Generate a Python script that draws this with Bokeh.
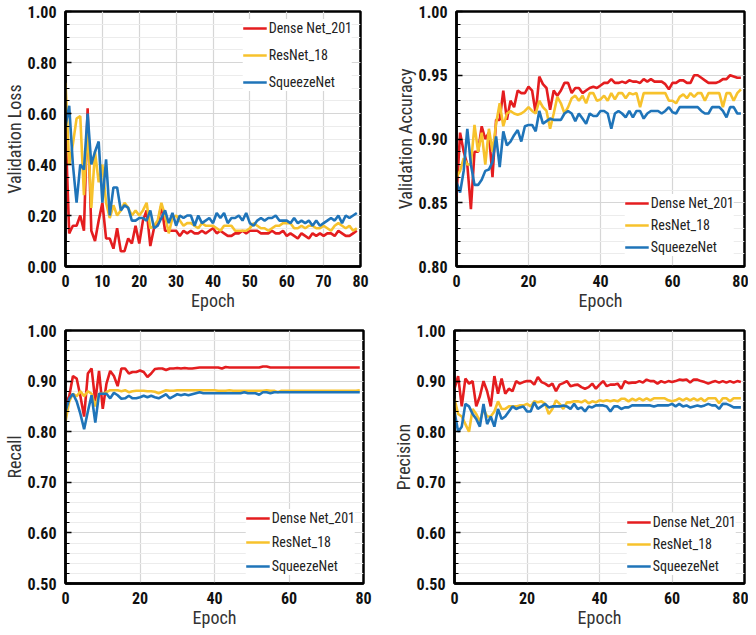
from bokeh.plotting import figure
from bokeh.layouts import column, row
from bokeh.models import FixedTicker, NumeralTickFormatter, Range1d
from bokeh.embed import file_html
from bokeh.resources import INLINE

epochs = list(range(80))
names = ["Dense Net_201", "ResNet_18", "SqueezeNet"]

loss_dense = [0.55, 0.13, 0.16, 0.16, 0.20, 0.14, 0.62, 0.14, 0.10, 0.18,
              0.25, 0.11, 0.11, 0.07, 0.15, 0.06, 0.06, 0.11, 0.09, 0.16,
              0.09, 0.18, 0.22, 0.08, 0.15, 0.17, 0.24, 0.14, 0.14, 0.14,
              0.14, 0.12, 0.14, 0.13, 0.14, 0.13, 0.13, 0.14, 0.13, 0.14,
              0.15, 0.13, 0.14, 0.13, 0.12, 0.12, 0.13, 0.13, 0.14, 0.13,
              0.14, 0.14, 0.14, 0.13, 0.13, 0.13, 0.14, 0.13, 0.13, 0.14,
              0.12, 0.13, 0.12, 0.11, 0.13, 0.12, 0.11, 0.13, 0.12, 0.13,
              0.12, 0.13, 0.13, 0.12, 0.14, 0.13, 0.12, 0.12, 0.13, 0.14]
loss_resnet = [0.72, 0.40, 0.48, 0.58, 0.59, 0.28, 0.55, 0.23, 0.45, 0.33,
               0.40, 0.25, 0.19, 0.24, 0.20, 0.22, 0.25, 0.23, 0.20, 0.22,
               0.20, 0.22, 0.25, 0.15, 0.16, 0.18, 0.25, 0.20, 0.13, 0.19,
               0.20, 0.18, 0.16, 0.17, 0.17, 0.16, 0.15, 0.17, 0.16, 0.16,
               0.16, 0.15, 0.14, 0.16, 0.16, 0.16, 0.14, 0.14, 0.14, 0.14,
               0.15, 0.17, 0.16, 0.15, 0.15, 0.14, 0.15, 0.16, 0.16, 0.17,
               0.17, 0.17, 0.15, 0.15, 0.16, 0.15, 0.16, 0.16, 0.15, 0.15,
               0.16, 0.15, 0.14, 0.16, 0.17, 0.16, 0.15, 0.16, 0.14, 0.15]
loss_squeeze = [0.55, 0.63, 0.40, 0.25, 0.40, 0.38, 0.60, 0.40, 0.45, 0.49,
                0.25, 0.42, 0.20, 0.31, 0.31, 0.22, 0.24, 0.23, 0.18, 0.18,
                0.19, 0.19, 0.18, 0.22, 0.15, 0.16, 0.19, 0.22, 0.17, 0.21,
                0.16, 0.20, 0.19, 0.20, 0.20, 0.16, 0.20, 0.17, 0.18, 0.19,
                0.17, 0.21, 0.19, 0.21, 0.17, 0.19, 0.19, 0.20, 0.18, 0.21,
                0.17, 0.16, 0.18, 0.19, 0.18, 0.19, 0.19, 0.20, 0.18, 0.18,
                0.18, 0.17, 0.19, 0.17, 0.18, 0.17, 0.18, 0.16, 0.18, 0.16,
                0.17, 0.18, 0.19, 0.18, 0.20, 0.17, 0.20, 0.19, 0.20, 0.21]

acc_dense = [0.855, 0.905, 0.890, 0.880, 0.845, 0.890, 0.890, 0.910, 0.900, 0.905,
             0.870, 0.915, 0.915, 0.938, 0.915, 0.930, 0.925, 0.938, 0.936, 0.936,
             0.941, 0.938, 0.920, 0.949, 0.943, 0.940, 0.923, 0.938, 0.934, 0.938,
             0.944, 0.944, 0.936, 0.940, 0.940, 0.936, 0.938, 0.940, 0.941, 0.940,
             0.942, 0.944, 0.944, 0.947, 0.944, 0.944, 0.945, 0.944, 0.946, 0.945,
             0.945, 0.944, 0.947, 0.945, 0.947, 0.945, 0.945, 0.945, 0.943, 0.939,
             0.944, 0.944, 0.946, 0.946, 0.944, 0.944, 0.950, 0.950, 0.948, 0.946,
             0.944, 0.944, 0.944, 0.945, 0.947, 0.947, 0.950, 0.949, 0.948, 0.948]
acc_resnet = [0.870, 0.875, 0.885, 0.880, 0.880, 0.911, 0.890, 0.905, 0.880, 0.908,
              0.890, 0.912, 0.928, 0.910, 0.920, 0.922, 0.920, 0.919, 0.920, 0.922,
              0.925, 0.922, 0.920, 0.930, 0.925, 0.922, 0.908, 0.920, 0.933, 0.928,
              0.920, 0.925, 0.932, 0.934, 0.930, 0.934, 0.928, 0.936, 0.936, 0.930,
              0.931, 0.934, 0.930, 0.936, 0.931, 0.936, 0.936, 0.932, 0.936, 0.935,
              0.936, 0.925, 0.936, 0.936, 0.936, 0.936, 0.936, 0.936, 0.936, 0.930,
              0.930, 0.928, 0.933, 0.935, 0.932, 0.936, 0.933, 0.936, 0.936, 0.930,
              0.936, 0.936, 0.936, 0.936, 0.925, 0.936, 0.936, 0.930, 0.936, 0.939]
acc_squeeze = [0.866, 0.858, 0.875, 0.908, 0.880, 0.864, 0.864, 0.868, 0.875, 0.876,
               0.882, 0.902, 0.878, 0.906, 0.895, 0.898, 0.903, 0.907, 0.898, 0.910,
               0.911, 0.911, 0.906, 0.922, 0.912, 0.914, 0.916, 0.915, 0.915, 0.915,
               0.920, 0.922, 0.920, 0.914, 0.920, 0.916, 0.912, 0.920, 0.918, 0.918,
               0.922, 0.922, 0.920, 0.908, 0.920, 0.922, 0.920, 0.917, 0.922, 0.917,
               0.922, 0.922, 0.916, 0.920, 0.922, 0.922, 0.922, 0.920, 0.922, 0.925,
               0.921, 0.920, 0.925, 0.925, 0.925, 0.925, 0.925, 0.925, 0.922, 0.920,
               0.920, 0.925, 0.925, 0.925, 0.922, 0.917, 0.925, 0.925, 0.920, 0.920]

rec_dense = [0.855, 0.870, 0.910, 0.905, 0.870, 0.830, 0.915, 0.925, 0.860, 0.920,
             0.845, 0.895, 0.920, 0.910, 0.890, 0.925, 0.925, 0.915, 0.918, 0.918,
             0.921, 0.918, 0.908, 0.915, 0.924, 0.925, 0.925, 0.922, 0.925, 0.925,
             0.926, 0.925, 0.926, 0.925, 0.925, 0.926, 0.927, 0.927, 0.927, 0.927,
             0.927, 0.927, 0.925, 0.928, 0.927, 0.927, 0.927, 0.927, 0.927, 0.927,
             0.927, 0.927, 0.927, 0.929, 0.929, 0.927, 0.927, 0.927, 0.927, 0.927,
             0.927, 0.927, 0.927, 0.927, 0.927, 0.927, 0.927, 0.927, 0.927, 0.927,
             0.927, 0.927, 0.927, 0.927, 0.927, 0.927, 0.927, 0.927, 0.927, 0.927]
rec_resnet = [0.820, 0.860, 0.875, 0.870, 0.880, 0.870, 0.880, 0.875, 0.850, 0.875,
              0.875, 0.878, 0.882, 0.882, 0.882, 0.880, 0.882, 0.878, 0.880, 0.881,
              0.881, 0.881, 0.880, 0.880, 0.879, 0.876, 0.879, 0.882, 0.881, 0.881,
              0.882, 0.882, 0.882, 0.882, 0.882, 0.882, 0.882, 0.882, 0.882, 0.882,
              0.882, 0.881, 0.881, 0.881, 0.882, 0.881, 0.881, 0.881, 0.881, 0.881,
              0.881, 0.881, 0.881, 0.881, 0.882, 0.881, 0.881, 0.878, 0.881, 0.881,
              0.881, 0.881, 0.881, 0.881, 0.881, 0.881, 0.881, 0.881, 0.881, 0.881,
              0.881, 0.881, 0.881, 0.881, 0.881, 0.881, 0.881, 0.881, 0.881, 0.882]
rec_squeeze = [0.840, 0.865, 0.875, 0.860, 0.835, 0.805, 0.840, 0.872, 0.818, 0.875,
               0.875, 0.875, 0.866, 0.877, 0.872, 0.865, 0.866, 0.871, 0.866, 0.866,
               0.868, 0.871, 0.868, 0.871, 0.868, 0.866, 0.870, 0.874, 0.866, 0.870,
               0.874, 0.872, 0.874, 0.872, 0.874, 0.876, 0.878, 0.876, 0.876, 0.876,
               0.876, 0.876, 0.876, 0.876, 0.876, 0.876, 0.876, 0.876, 0.878, 0.876,
               0.876, 0.876, 0.873, 0.878, 0.878, 0.876, 0.878, 0.878, 0.878, 0.878,
               0.878, 0.878, 0.878, 0.878, 0.878, 0.878, 0.878, 0.878, 0.878, 0.878,
               0.878, 0.878, 0.878, 0.878, 0.878, 0.878, 0.878, 0.878, 0.878, 0.878]

prec_dense = [0.885, 0.910, 0.850, 0.905, 0.895, 0.900, 0.850, 0.870, 0.900, 0.880,
              0.850, 0.910, 0.875, 0.905, 0.875, 0.885, 0.880, 0.900, 0.895, 0.898,
              0.900, 0.900, 0.893, 0.908, 0.898, 0.895, 0.890, 0.895, 0.880, 0.893,
              0.896, 0.900, 0.890, 0.892, 0.893, 0.888, 0.885, 0.888, 0.895, 0.885,
              0.893, 0.900, 0.890, 0.893, 0.893, 0.895, 0.885, 0.900, 0.896, 0.897,
              0.897, 0.900, 0.897, 0.903, 0.900, 0.900, 0.895, 0.900, 0.897, 0.900,
              0.898, 0.900, 0.903, 0.902, 0.903, 0.897, 0.903, 0.903, 0.900, 0.898,
              0.895, 0.898, 0.900, 0.897, 0.900, 0.897, 0.900, 0.897, 0.900, 0.898]
prec_resnet = [0.865, 0.835, 0.830, 0.815, 0.800, 0.845, 0.835, 0.820, 0.845, 0.830,
               0.830, 0.840, 0.860, 0.845, 0.845, 0.850, 0.850, 0.850, 0.852, 0.852,
               0.855, 0.850, 0.860, 0.858, 0.860, 0.855, 0.835, 0.845, 0.862, 0.855,
               0.845, 0.858, 0.858, 0.860, 0.860, 0.858, 0.862, 0.856, 0.860, 0.858,
               0.862, 0.860, 0.862, 0.860, 0.862, 0.860, 0.865, 0.865, 0.860, 0.865,
               0.862, 0.866, 0.862, 0.866, 0.862, 0.866, 0.866, 0.866, 0.866, 0.862,
               0.860, 0.862, 0.866, 0.862, 0.866, 0.862, 0.866, 0.862, 0.866, 0.860,
               0.866, 0.866, 0.866, 0.856, 0.866, 0.866, 0.860, 0.866, 0.866, 0.866]
prec_squeeze = [0.840, 0.800, 0.810, 0.855, 0.850, 0.835, 0.825, 0.810, 0.855, 0.815,
                0.830, 0.810, 0.845, 0.825, 0.830, 0.840, 0.850, 0.845, 0.848, 0.850,
                0.840, 0.840, 0.858, 0.845, 0.850, 0.855, 0.848, 0.850, 0.850, 0.850,
                0.852, 0.850, 0.845, 0.855, 0.845, 0.848, 0.840, 0.850, 0.848, 0.852,
                0.852, 0.852, 0.850, 0.840, 0.850, 0.850, 0.845, 0.848, 0.848, 0.852,
                0.852, 0.852, 0.852, 0.852, 0.852, 0.850, 0.852, 0.852, 0.852, 0.852,
                0.855, 0.850, 0.855, 0.850, 0.852, 0.848, 0.850, 0.852, 0.850, 0.852,
                0.855, 0.852, 0.852, 0.845, 0.855, 0.855, 0.852, 0.848, 0.848, 0.848]

FONT = "Roboto Condensed, Roboto"
COLORS = ["#e41d1f", "#f7c22c", "#1f74b9"]


def make(ylabel, series, yr, ymajor, yminor, xticks, legend_loc, legend_margin,
         legend_spacing, width, height, bl, br, bt, bb):
    p = figure(width=width, height=height, x_range=Range1d(0, 80),
               y_range=Range1d(*yr), output_backend="svg", toolbar_location=None,
               min_border_left=bl, min_border_right=br, min_border_top=bt,
               min_border_bottom=bb)
    p.background_fill_color = "white"
    p.border_fill_color = "white"
    p.outline_line_color = "black"
    p.outline_line_width = 2.5

    for vals, name, col in zip(series, names, COLORS):
        p.line(epochs, vals, line_color=col, line_width=2.6, legend_label=name)

    p.yaxis.ticker = FixedTicker(ticks=ymajor, minor_ticks=yminor)
    p.xaxis.ticker = FixedTicker(ticks=xticks)
    p.yaxis.formatter = NumeralTickFormatter(format="0.00")

    for ax in (p.xaxis[0], p.yaxis[0]):
        ax.axis_line_color = "black"
        ax.axis_line_width = 2.5
        ax.major_label_text_font = FONT
        ax.major_label_text_font_style = "bold"
        ax.major_label_text_font_size = "16px"
        ax.major_label_text_color = "#111111"
        ax.axis_label_text_font = FONT
        ax.axis_label_text_font_style = "normal"
        ax.axis_label_text_font_size = "18px"
        ax.axis_label_text_color = "#333333"
        ax.axis_label_standoff = 0

    p.yaxis.axis_label = ylabel
    p.xaxis.axis_label = "Epoch"
    p.yaxis.major_tick_in = 6
    p.yaxis.major_tick_out = 0
    p.yaxis.minor_tick_in = 4
    p.yaxis.minor_tick_out = 0
    p.yaxis.major_tick_line_color = "black"
    p.yaxis.minor_tick_line_color = "black"
    p.yaxis.major_tick_line_width = 1.5
    p.yaxis.major_label_standoff = 9
    p.xaxis.major_tick_in = 0
    p.xaxis.major_tick_out = 0
    p.xaxis.minor_tick_in = 0
    p.xaxis.minor_tick_out = 0
    p.xaxis.major_label_standoff = 8

    p.xgrid.grid_line_color = "#d6d6d6"
    p.xgrid.grid_line_width = 1.2
    p.ygrid.grid_line_color = "#d6d6d6"
    p.ygrid.grid_line_width = 1.2
    p.ygrid.minor_grid_line_color = "#ececec"
    p.ygrid.minor_grid_line_width = 1

    lg = p.legend[0]
    lg.location = legend_loc
    lg.margin = legend_margin
    lg.border_line_color = None
    lg.background_fill_color = "white"
    lg.background_fill_alpha = 1.0
    lg.label_text_font = FONT
    lg.label_text_font_size = "14px"
    lg.label_text_color = "#222222"
    lg.glyph_width = 24
    lg.glyph_height = 18
    lg.label_height = 18
    lg.label_standoff = 2
    lg.spacing = legend_spacing
    lg.padding = 6
    return p


def frange(a, b, step):
    n = int(round((b - a) / step))
    return [round(a + i * step, 4) for i in range(n + 1)]


p1 = make("Validation Loss", [loss_dense, loss_resnet, loss_squeeze], (0, 1),
          frange(0, 1, 0.2), frange(0, 1, 0.05), frange(0, 80, 10),
          "top_right", 8, 9, 376, 314, 64, 16, 11, 48)
p2 = make("Validation Accuracy", [acc_dense, acc_resnet, acc_squeeze], (0.8, 1.0),
          frange(0.8, 1.0, 0.05), frange(0.8, 1.0, 0.01), frange(0, 80, 20),
          "bottom_right", 10, 4, 372, 314, 80, 4, 9, 47)
p3 = make("Recall", [rec_dense, rec_resnet, rec_squeeze], (0.5, 1.0),
          frange(0.5, 1.0, 0.1), frange(0.5, 1.0, 0.02), frange(0, 80, 20),
          "bottom_right", 8, 6, 376, 317, 63, 13, 11, 48)
p4 = make("Precision", [prec_dense, prec_resnet, prec_squeeze], (0.5, 1.0),
          frange(0.5, 1.0, 0.1), frange(0.5, 1.0, 0.02), frange(0, 80, 20),
          "bottom_right", 8, 4, 372, 317, 78, 4, 16, 46)

layout = column(row(p1, p2, spacing=0), row(p3, p4, spacing=0), spacing=0)

with open("out.html", "w") as f:
    f.write(file_html(layout, INLINE))
